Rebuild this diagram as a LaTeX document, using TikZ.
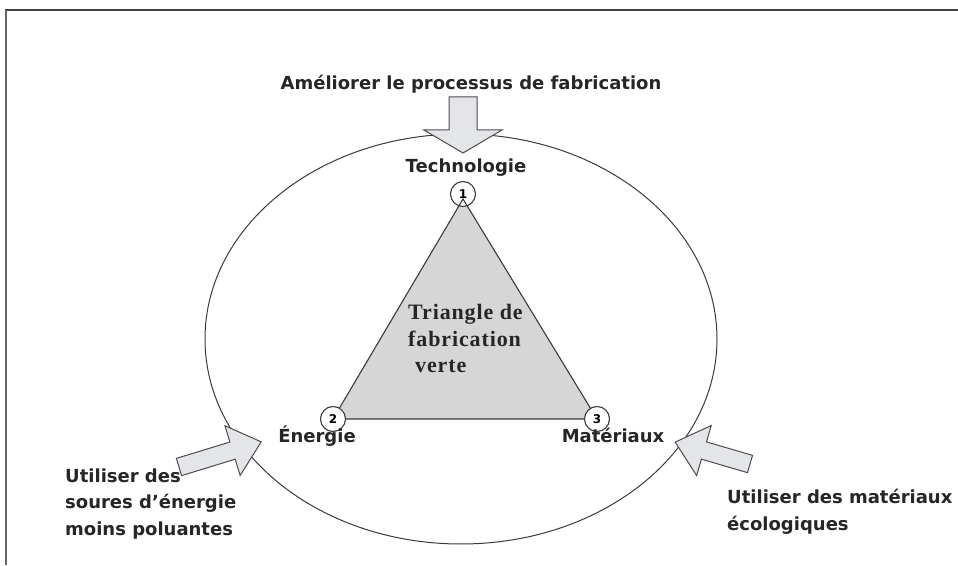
\documentclass[tikz,border=0pt]{standalone}
\usepackage{fontspec}
\setmainfont{DejaVu Sans}
\newfontfamily\trifont[LetterSpace=4]{Liberation Serif}
\newfontfamily\numfont{DejaVu Sans}
\usetikzlibrary{calc,shapes.geometric}

\definecolor{trigray}{HTML}{D6D6D6}
\definecolor{arrowfill}{HTML}{E3E5E8}
\definecolor{inkline}{HTML}{3A3A3A}

\tikzset{
  label text/.style={font=\bfseries\fontsize{18}{26.5}\selectfont, inner sep=0pt, text=black!85},
  vertex/.style={circle, draw=inkline, fill=white, line width=1.1pt, minimum size=25pt, inner sep=0pt,
                 font=\numfont\bfseries\fontsize{12}{12}\selectfont},
  tri edge/.style={draw=inkline, line width=1.1pt},
  blockarrow/.style={draw=black!70, fill=arrowfill, line width=1pt, line join=miter},
  frame line/.style={draw=black!75, line width=1.4pt},
}

% block arrow: #1 = tail point, #2 = angle, #3 = length, #4 = shaft half width,
% #5 = head half width, #6 = head length
\newcommand{\fatarrow}[6]{%
  \draw[blockarrow, shift={#1}, rotate=#2]
    (0,#4) -- ({#3-#6},#4) -- ({#3-#6},#5) -- (#3,0) -- ({#3-#6},-#5)
    -- ({#3-#6},-#4) -- (0,-#4) -- cycle;}

\begin{document}
\begin{tikzpicture}[x=1pt, y=1pt]
  \useasboundingbox (0,0) rectangle (958,565);

  % page frame (top and left rules)
  \draw[frame line] (5,555) -- (958,555);
  \draw[frame line, draw=black!60] (6,555) -- (6,0);

  % outer ellipse
  \node[draw=inkline, line width=1pt, ellipse, minimum width=512pt, minimum height=410pt,
        inner sep=0pt] (orb) at (461,226) {};

  % corner positions of the triangle
  \coordinate (p1) at (463,366);
  \coordinate (p2) at (333,146);
  \coordinate (p3) at (597,146);

  \fill[trigray] (p1) -- (p2) -- (p3) -- cycle;

  % numbered vertices
  \node[vertex] (c1) at (463,371) {1};
  \draw[tri edge] (p2) -- (p1) -- (p3) -- cycle;
  \node[vertex] (c2) at (p2) {2};
  \node[vertex] (c3) at (p3) {3};

  % centre caption
  \node[anchor=base west, align=left, inner sep=0pt,
        font=\trifont\bfseries\fontsize{22}{26.5}\selectfont, text=black!85]
        (tri) at (408,192) {Triangle de\\fabrication\\\hspace{7pt}verte};

  % vertex labels
  \node[label text, anchor=base] (tech) at (466,392) {Technologie};
  \node[label text, anchor=base] (ener) at (317,122) {Énergie};
  \node[label text, anchor=base] (mat)  at (613,122) {Matériaux};

  % outside labels
  \node[label text, anchor=base] (top) at (471,475) {Améliorer le processus de fabrication};
  \node[label text, anchor=north west, align=left] (left) at (65,96.5)
        {Utiliser des\\soures d'énergie\\moins poluantes};
  \node[label text, anchor=north west, align=left] (right) at (727,76)
        {Utiliser des matériaux\\écologiques};

  % block arrows pointing at the ellipse
  \fatarrow{(463,468)}{-90}{56}{14}{39}{23}
  \fatarrow{(179,98)}{17}{86}{9}{26}{30}
  \fatarrow{(750,101)}{163.7}{78}{9}{26}{30}
\end{tikzpicture}
\end{document}
